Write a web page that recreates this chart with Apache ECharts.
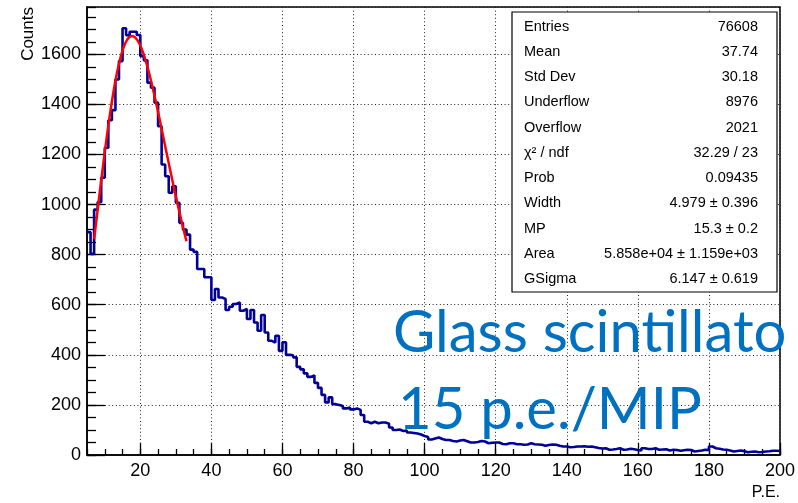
<!DOCTYPE html>
<html>
<head>
<meta charset="utf-8">
<script src="https://cdn.jsdelivr.net/npm/echarts@6/dist/echarts.min.js"></script>
<style>
  html, body { margin: 0; padding: 0; background: #ffffff; }
  #chart { width: 798px; height: 503px; }
</style>
</head>
<body>
<div id="chart"></div>
<script>
// Photo-electron spectrum: 1 P.E. wide bins, first bin starts at 5
const binStart = 5;
const binWidth = 1;
const counts = [
  890, 803, 980, 1010, 1107, 1227, 1337, 1377, 1500, 1573,
  1704, 1676, 1690, 1690, 1677, 1593, 1576, 1487, 1467, 1407,
  1313, 1160, 1113, 1047, 1073, 1007, 927, 900, 880, 820,
  811, 743, 743, 710, 710, 619, 663, 629, 623, 579,
  592, 603, 609, 576, 583, 543, 579, 529, 496, 559,
  489, 456, 449, 476, 416, 450, 400, 398, 390, 352,
  342, 326, 312, 318, 288, 268, 240, 210, 230, 203,
  200, 196, 186, 190, 182, 186, 180, 160, 133, 127,
  133, 127, 130, 130, 125, 110, 100, 102, 96, 98,
  90, 88, 86, 82, 76, 72, 62, 66, 70, 64,
  60, 60, 56, 54, 58, 60, 55, 50, 50, 52,
  56, 54, 47, 49, 50, 50, 44, 43, 47, 47,
  43, 43, 41, 42, 47, 43, 42, 41, 37, 40,
  42, 41, 37, 34, 34, 31, 32, 34, 34, 35,
  33, 34, 31, 28, 26, 27, 21, 22, 24, 27,
  21, 22, 25, 23, 20, 18, 27, 24, 24, 27,
  21, 22, 23, 18, 21, 20, 17, 19, 21, 20,
  14, 16, 18, 21, 20, 34, 27, 25, 22, 21,
  18, 14, 16, 18, 15, 11, 13, 14, 11, 12,
  14, 15, 17, 17, 16
];

// Axis ranges
const xRange = [5, 200];
const yRange = [0, 1789];

// Statistics box
const statNames = ['Entries', 'Mean', 'Std Dev', 'Underflow', 'Overflow', 'χ² / ndf',
                   'Prob', 'Width', 'MP', 'Area', 'GSigma'];
const statValues = ['76608', '37.74', '30.18', '8976', '2021', '32.29 / 23',
                    '0.09435', '4.979 ± 0.396', '15.3 ± 0.2', '5.858e+04 ± 1.159e+03', '6.147 ± 0.619'];

// Landau (x) Gauss fit: Width, MP, Area, GSigma, drawn over the fit range
const fitParams = [4.979, 15.3, 5.858e4, 6.147];
const fitRange = [7, 33];

const overlayLines = ['Glass scintillato', '15 p.e./MIP'];

// ---- Landau density, p(l) = 1/pi * Int_0^inf exp(-pi t/2) cos(t l + t ln t) dt
function landauIntegral(l) {
  const h = 0.004, T = 26;
  const n = Math.round(T / h);
  let s = 0;
  for (let i = 0; i <= n; i++) {
    const t = i * h;
    const f = t === 0 ? 1 : Math.exp(-Math.PI * t / 2) * Math.cos(t * l + t * Math.log(t));
    const w = (i === 0 || i === n) ? 1 : (i % 2 ? 4 : 2);
    s += w * f;
  }
  return Math.max(0, s * h / 3 / Math.PI);
}
const L_MIN = -4.5, L_MAX = 12, L_STEP = 0.02;
const landTable = [];
for (let k = 0; L_MIN + k * L_STEP <= L_MAX + 1e-9; k++) landTable.push(landauIntegral(L_MIN + k * L_STEP));
function landau(l) {
  if (l <= L_MIN) return 0;
  if (l >= L_MAX) return 1 / (l * l);
  const p = (l - L_MIN) / L_STEP;
  const k = Math.floor(p), f = p - k;
  return landTable[k] * (1 - f) + landTable[k + 1] * f;
}
// Landau convoluted with a Gaussian (same definition as the ROOT langaus example)
function langaus(x, par) {
  const invsq2pi = 0.3989422804014;
  const mpshift = -0.22278298;
  const np = 100, sc = 5;
  const mpc = par[1] - mpshift * par[0];
  const xlow = x - sc * par[3], xupp = x + sc * par[3];
  const step = (xupp - xlow) / np;
  let sum = 0;
  for (let i = 1; i <= np / 2; i++) {
    let xx = xlow + (i - 0.5) * step;
    sum += landau((xx - mpc) / par[0]) / par[0] * Math.exp(-0.5 * Math.pow((x - xx) / par[3], 2));
    xx = xupp - (i - 0.5) * step;
    sum += landau((xx - mpc) / par[0]) / par[0] * Math.exp(-0.5 * Math.pow((x - xx) / par[3], 2));
  }
  return par[2] * step * sum * invsq2pi / par[3];
}

// Histogram outline: left edge of every bin, closed at the upper edge of the last one
const histData = counts.map((c, i) => [binStart + i * binWidth, c]);
histData.push([binStart + counts.length * binWidth, counts[counts.length - 1]]);

const fitData = [];
const nFit = 100;
for (let i = 0; i <= nFit; i++) {
  const x = fitRange[0] + (fitRange[1] - fitRange[0]) * i / nFit;
  fitData.push([x, langaus(x, fitParams)]);
}

const FONT = 'Liberation Sans, Arial, Helvetica, sans-serif';
const gridBox = { left: 87, top: 7, width: 693, height: 448 };

const gridDots = { show: true, lineStyle: { color: '#222', width: 1, type: [1, 2.6] } };
const plainNumber = v => String(v);

// Statistics box graphics
const box = { x: 512, y: 12, w: 265, h: 280 };
const rowY0 = 26.7, rowStep = 25.23;
const statGraphics = [{
  type: 'rect', z: 100,
  shape: { x: box.x, y: box.y, width: box.w, height: box.h },
  style: { fill: '#fff', stroke: '#000', lineWidth: 1.2 }
}];
statNames.forEach((name, i) => {
  statGraphics.push({
    type: 'text', z: 101, x: 524, y: rowY0 + i * rowStep,
    style: { text: name, font: '14.5px ' + FONT, fill: '#000', align: 'left', verticalAlign: 'middle' }
  });
  statGraphics.push({
    type: 'text', z: 101, x: 758, y: rowY0 + i * rowStep,
    style: { text: statValues[i], font: '14.5px ' + FONT, fill: '#000', align: 'right', verticalAlign: 'middle' }
  });
});

const chart = echarts.init(document.getElementById('chart'), null, { renderer: 'canvas' });
chart.setOption({
  animation: false,
  backgroundColor: '#ffffff',
  grid: Object.assign({ show: true, borderColor: '#000', borderWidth: 1.5, backgroundColor: 'transparent', containLabel: false }, gridBox),
  xAxis: [
    {
      type: 'value', position: 'bottom', min: xRange[0], max: xRange[1],
      splitNumber: 10, minInterval: 20, maxInterval: 20,
      axisLine: { show: true, onZero: false, lineStyle: { color: '#000', width: 1.5 } },
      axisTick: { show: true, inside: true, length: 12, lineStyle: { color: '#000', width: 1.3 } },
      axisLabel: { show: true, showMinLabel: false, margin: 7, color: '#000', fontFamily: FONT, fontSize: 18, formatter: plainNumber },
      splitLine: gridDots
    },
    {
      type: 'value', position: 'bottom', min: xRange[0], max: xRange[1], interval: 5,
      axisLine: { show: false, onZero: false },
      axisTick: { show: true, inside: true, length: 6, lineStyle: { color: '#000', width: 1.3 } },
      axisLabel: { show: false },
      splitLine: { show: false }
    }
  ],
  yAxis: [
    {
      type: 'value', position: 'left', min: yRange[0], max: yRange[1], interval: 200,
      axisLine: { show: true, onZero: false, lineStyle: { color: '#000', width: 1.5 } },
      axisTick: { show: true, inside: true, length: 18, lineStyle: { color: '#000', width: 1.3 } },
      axisLabel: { show: true, showMaxLabel: false, margin: 6, color: '#000', fontFamily: FONT, fontSize: 18, formatter: plainNumber },
      splitLine: gridDots
    },
    {
      type: 'value', position: 'left', min: yRange[0], max: yRange[1], interval: 50,
      axisLine: { show: false, onZero: false },
      axisTick: { show: true, inside: true, length: 9, lineStyle: { color: '#000', width: 1.3 } },
      axisLabel: { show: false },
      splitLine: { show: false }
    }
  ],
  series: [
    {
      name: 'P.E.', type: 'line', xAxisIndex: 0, yAxisIndex: 0,
      data: histData, step: 'end', showSymbol: false, symbol: 'none',
      lineStyle: { color: '#000099', width: 2.6 }, z: 3
    },
    {
      name: 'langaus', type: 'line', xAxisIndex: 0, yAxisIndex: 0,
      data: fitData, showSymbol: false, symbol: 'none', smooth: false,
      lineStyle: { color: '#ff0000', width: 2.5 }, z: 4
    }
  ],
  graphic: [
    {
      type: 'text', x: 28, y: 7, rotation: Math.PI / 2,
      style: { text: 'Counts', font: '17px ' + FONT, fill: '#000', align: 'right', verticalAlign: 'middle' }
    },
    {
      type: 'text', x: 780, y: 493,
      style: { text: 'P.E.', font: '16px ' + FONT, fill: '#000', align: 'right', verticalAlign: 'middle' }
    },
    ...statGraphics,
    {
      type: 'text', z: 120, x: 393, y: 333,
      style: { text: overlayLines[0], font: '58px Lato, "Open Sans", sans-serif', fill: '#0070C0', align: 'left', verticalAlign: 'middle' }
    },
    {
      type: 'text', z: 120, x: 398, y: 410,
      style: { text: overlayLines[1], font: '58px Lato, "Open Sans", sans-serif', fill: '#0070C0', align: 'left', verticalAlign: 'middle' }
    }
  ]
});
</script>
</body>
</html>
